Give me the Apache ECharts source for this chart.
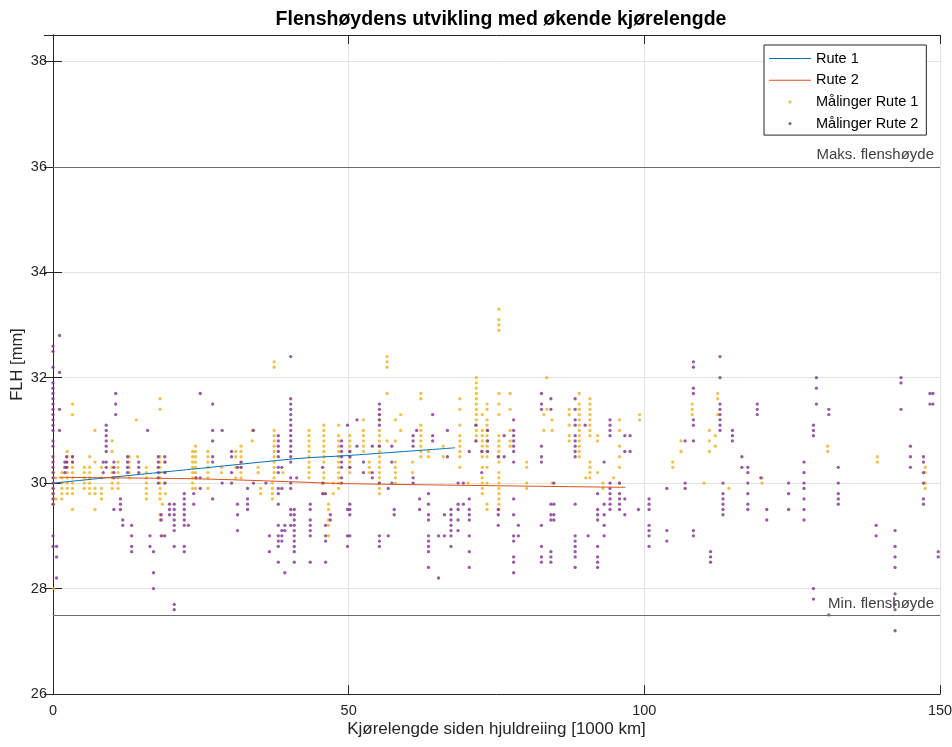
<!DOCTYPE html>
<html>
<head>
<meta charset="utf-8">
<script src="https://cdn.jsdelivr.net/npm/echarts@6/dist/echarts.min.js"></script>
<style>
  html, body { margin: 0; padding: 0; background: #ffffff; }
  #chart { width: 952px; height: 747px; }
</style>
</head>
<body>
<div id="chart"></div>
<script>
// Flange height measurements per route: [distance (1000 km), [FLH values in mm]]
const route1Columns = [
  [0.1, [30.2, 30.1, 30.0, 29.9, 29.8, 29.7, 29.6, 28.0]],
  [0.5, [30.1, 29.7]],
  [1.5, [30.2, 30.1, 30.0, 29.9, 29.8, 29.7]],
  [2.4, [30.6, 30.5, 30.4, 30.3, 30.2, 30.1, 30.0, 29.9, 29.8]],
  [3.3, [31.5, 31.3, 30.5, 30.4, 30.3, 30.2, 30.1, 30.0, 29.9, 29.8, 29.5]],
  [5.3, [30.3, 30.2, 30.1, 30.0, 29.9]],
  [6.2, [30.5, 30.3, 30.2, 30.1, 30.0, 29.9, 29.8]],
  [7.1, [31.0, 30.4, 29.9, 29.8, 29.5]],
  [8.2, [30.3, 30.1, 29.9, 29.8, 29.7]],
  [10.0, [30.8, 30.6, 30.3, 30.2, 30.1, 30.0, 29.9]],
  [11.0, [30.4, 30.3, 30.2, 30.1, 30.0, 29.9]],
  [12.9, [30.5, 30.4, 30.3, 30.2, 30.1]],
  [14.1, [31.2]],
  [14.3, [30.5]],
  [15.8, [30.3, 30.2, 30.1, 30.0, 29.9, 29.8, 29.7]],
  [18.1, [31.6, 31.4, 30.5, 30.4, 30.3, 30.2, 30.1, 30.0, 29.9, 29.8, 29.7, 29.4, 29.3]],
  [18.5, [29.6, 29.0]],
  [19.0, [30.4, 30.2, 30.0, 29.8]],
  [23.6, [30.6, 30.5, 30.4, 30.3, 30.2, 30.1, 30.0, 29.9]],
  [24.1, [30.7, 30.6, 30.5, 30.4, 30.3, 30.2, 30.1, 29.9]],
  [26.2, [30.6, 30.5, 30.4, 30.3, 30.2, 30.1, 29.9]],
  [28.5, [30.3, 30.2]],
  [30.9, [30.6, 30.5, 30.3, 30.1]],
  [31.8, [30.7, 30.6, 30.5, 30.4, 30.3, 30.2, 30.1]],
  [33.7, [31.0, 30.8]],
  [34.7, [30.3, 30.2]],
  [35.1, [29.9, 29.8]],
  [37.1, [30.0, 29.9, 29.8, 29.7]],
  [37.4, [32.3, 32.2, 31.0, 30.9, 30.8, 30.7, 30.6, 30.5, 30.4, 30.3, 30.2, 30.1]],
  [38.9, [30.2]],
  [43.3, [31.0, 30.9, 30.8, 30.7, 30.6, 30.5, 30.4, 30.3, 30.2, 30.1]],
  [45.8, [31.1, 31.0, 30.9, 30.8, 30.7, 30.6, 30.5, 30.4, 30.2, 30.1, 30.0, 29.8]],
  [46.6, [29.6, 29.5, 29.3, 29.2, 29.0]],
  [47.4, [30.0, 29.8]],
  [48.3, [31.1, 30.9, 30.8, 30.7, 30.6, 30.5, 30.4, 30.3, 30.2, 30.1, 30.0, 29.9]],
  [50.2, [30.9, 30.8, 30.7, 30.6, 30.5, 30.4, 30.3, 30.2]],
  [52.5, [31.2, 31.0, 30.9, 30.8, 30.7, 30.6]],
  [53.5, [30.4, 30.3, 30.2]],
  [55.2, [31.3, 31.2, 31.0, 30.9, 30.8, 30.7, 30.6, 30.5, 30.4, 30.3, 30.2, 30.1, 30.0, 29.9, 29.8]],
  [56.5, [32.4, 32.3, 32.2, 31.7, 30.8]],
  [57.9, [31.2, 30.8, 30.4, 30.3, 30.2, 30.1, 30.0]],
  [58.8, [31.3, 31.0]],
  [60.8, [30.4, 30.2]],
  [62.2, [31.7, 31.6, 31.1, 31.0, 30.9, 30.8, 30.7, 30.6, 30.5]],
  [63.5, [30.6, 30.5]],
  [66.0, [30.7, 30.5]],
  [68.8, [31.6, 31.4, 31.1, 30.9, 30.8, 30.7, 30.6, 30.5, 30.3]],
  [70.2, [30.0]],
  [71.6, [32.0, 31.9, 31.8, 31.7, 31.6, 31.5, 31.4, 31.3, 31.2, 31.1, 31.0, 30.9, 30.8]],
  [72.6, [31.3, 31.0, 30.9, 30.8, 30.7, 30.6, 30.5, 30.3, 30.1, 30.0, 29.9, 29.8]],
  [73.4, [31.5, 31.4, 31.2, 31.1, 31.0, 30.9, 30.8, 30.7, 30.6, 30.5, 30.3, 30.0, 29.6, 29.5]],
  [75.4, [33.3, 33.1, 33.0, 32.9, 31.7, 31.5, 31.3, 30.9, 30.8, 30.7, 30.6, 30.5, 30.4, 30.2, 30.1, 30.0, 29.9, 29.8, 29.7, 29.6, 29.5]],
  [77.3, [31.7, 31.4, 31.0, 30.8, 30.7]],
  [80.1, [30.4, 30.3, 30.0, 29.9]],
  [83.0, [31.3, 31.0]],
  [83.5, [32.0, 31.4]],
  [84.4, [31.2, 31.0, 30.0]],
  [87.3, [31.4, 31.3, 31.1, 30.9, 30.8]],
  [89.0, [31.7, 31.5, 31.4, 31.3, 31.2, 31.1, 31.0, 30.9, 30.8, 30.7, 30.6, 30.5]],
  [90.1, [30.1]],
  [90.8, [31.6, 31.5, 31.4, 31.3, 31.2, 31.1, 31.0, 30.9, 30.4, 30.3, 30.2, 30.1]],
  [92.1, [30.9, 30.8, 30.2]],
  [93.0, [30.0, 29.9]],
  [94.8, [30.1]],
  [95.8, [31.2, 31.0, 30.7, 30.5, 30.3, 30.0]],
  [99.2, [31.3, 31.2]],
  [104.8, [30.4, 30.3]],
  [106.2, [30.8, 30.6]],
  [108.1, [31.5, 31.4, 31.3]],
  [110.1, [30.0]],
  [111.0, [31.0, 30.8, 30.6]],
  [112.0, [30.9, 30.7]],
  [112.4, [31.7, 31.6, 31.3]],
  [114.3, [29.9]],
  [119.9, [30.1, 30.0]],
  [131.0, [30.7, 30.6]],
  [139.4, [30.5, 30.4]],
  [147.5, [30.3, 30.2, 30.0, 29.9]]
];

const route2Columns = [
  [0.0, [32.6, 32.5, 32.2, 31.9, 31.8, 31.7, 31.6, 31.5, 31.4, 31.3, 31.2, 31.1, 31.0, 30.8, 30.7, 30.5, 30.4, 30.3, 30.2, 30.1, 30.0, 29.9, 29.8, 29.7, 29.6, 29.0, 28.8]],
  [0.6, [28.8, 28.6, 28.2]],
  [1.1, [32.8, 32.1, 31.4, 31.0]],
  [2.0, [30.4, 30.3, 30.2]],
  [2.3, [30.5, 30.4, 30.3]],
  [3.3, [30.5, 30.4]],
  [8.5, [30.4, 30.2]],
  [9.0, [31.1, 31.0, 30.9, 30.8, 30.7, 30.6, 30.4, 30.3]],
  [10.3, [30.4, 30.3, 30.2, 30.1, 29.5]],
  [10.6, [31.7, 31.5, 31.3]],
  [11.4, [29.7, 29.6, 29.5]],
  [11.8, [29.3, 29.2]],
  [12.6, [30.5, 30.4, 30.3, 30.2]],
  [13.3, [29.2, 29.0, 28.8, 28.7]],
  [14.5, [30.4, 30.3, 30.2]],
  [16.0, [31.0]],
  [16.4, [29.0, 28.8]],
  [17.0, [28.7, 28.3, 28.0]],
  [17.8, [30.5, 30.4, 30.3, 30.2, 30.1, 30.0]],
  [18.3, [29.4, 29.3, 29.0]],
  [18.9, [30.5, 30.4, 30.2, 30.0, 29.0]],
  [19.7, [29.6, 29.5, 29.4]],
  [20.5, [29.6, 29.5, 29.4, 29.3, 29.2, 29.1, 28.8, 27.7, 27.6]],
  [22.2, [29.8, 29.7, 29.6, 29.5, 29.4, 29.3, 29.2, 28.8, 28.7]],
  [22.9, [29.2]],
  [23.8, [29.8, 29.6]],
  [24.2, [30.1]],
  [24.9, [31.7, 30.1, 29.9]],
  [27.0, [31.5, 31.0, 30.8, 30.5, 30.4, 29.7]],
  [28.6, [31.0, 30.0]],
  [30.2, [30.6, 30.5, 30.2, 30.0]],
  [31.2, [30.3, 29.6, 29.4, 29.1]],
  [31.8, [30.4, 30.3]],
  [32.9, [29.9, 29.7, 29.6, 29.5]],
  [33.9, [31.0, 30.0]],
  [36.0, [30.0]],
  [36.6, [29.0, 28.7]],
  [38.1, [30.9, 30.8, 30.7, 30.6, 30.5, 30.3, 30.2, 29.9, 29.8, 29.6, 29.2, 29.0, 28.9, 28.8, 28.5]],
  [38.7, [30.3, 29.9, 29.1, 29.0, 28.9]],
  [39.2, [29.2, 29.1, 28.3]],
  [40.2, [32.4, 31.6, 31.5, 31.4, 31.3, 31.2, 31.1, 31.0, 30.9, 30.8, 30.7, 30.6, 30.5, 30.4, 30.1, 30.0, 29.9, 29.5, 29.4, 29.2]],
  [40.8, [29.5, 29.4, 29.3, 29.2, 29.1, 29.0, 28.9, 28.8, 28.7, 28.5]],
  [41.2, [30.1]],
  [43.5, [29.6, 29.5, 29.3, 29.2, 29.1, 29.0, 28.5]],
  [45.6, [30.3, 30.0, 29.8]],
  [46.1, [29.8, 29.2, 29.0, 28.9, 28.5]],
  [46.9, [29.4, 29.3]],
  [48.8, [30.8, 30.7, 30.6, 30.5, 30.4, 30.3, 30.1, 30.0]],
  [49.8, [31.1, 29.5, 29.0, 28.8]],
  [50.2, [30.6, 30.5, 30.3, 29.6, 29.5, 29.4, 29.0]],
  [51.4, [31.2, 30.7]],
  [52.5, [30.4, 30.2]],
  [54.0, [30.7, 30.2, 30.1]],
  [55.2, [31.5, 31.4, 31.3, 31.2, 31.1, 30.7, 30.0, 29.0, 28.9, 28.8]],
  [56.7, [29.9, 29.0]],
  [57.3, [30.7, 30.4, 30.0]],
  [57.7, [29.5, 29.4]],
  [60.9, [30.9, 30.8, 30.7, 30.1, 30.0]],
  [61.5, [31.0]],
  [62.0, [29.7, 29.5]],
  [63.5, [29.8, 29.6, 29.4, 29.3, 29.0, 28.9, 28.8, 28.7, 28.4]],
  [64.2, [31.3, 30.9, 30.8]],
  [65.2, [29.0, 28.2]],
  [66.2, [29.4, 29.0]],
  [66.7, [31.0, 30.5]],
  [67.3, [29.5, 29.4, 29.3, 29.2, 29.1, 29.0, 28.8]],
  [68.5, [30.0, 29.6, 29.5, 29.3, 29.1]],
  [69.4, [30.0, 29.6]],
  [70.4, [30.6, 29.7, 29.5, 29.4, 29.3, 29.0, 28.7, 28.4]],
  [71.5, [31.1, 30.8]],
  [72.5, [30.6, 30.2]],
  [73.5, [31.0, 30.8, 30.6]],
  [75.3, [30.5, 29.5, 29.4, 29.2]],
  [76.3, [30.9, 30.5]],
  [77.9, [31.2, 31.0, 30.9, 30.8, 30.7, 30.6, 30.4, 29.7, 29.4, 29.0, 28.9, 28.6, 28.5, 28.3]],
  [78.7, [29.2, 29.0]],
  [82.6, [31.7, 31.5, 31.4, 30.7, 30.5, 30.4, 29.2, 28.8, 28.6, 28.5]],
  [84.2, [31.6, 31.4, 29.6, 29.4, 29.3, 28.7, 28.6, 28.5]],
  [84.7, [30.0, 29.6, 29.4, 29.3]],
  [88.3, [31.6, 31.4, 31.2, 31.1, 30.9, 30.8, 30.7, 30.6, 30.5, 29.6, 29.0, 28.9, 28.8, 28.7, 28.6, 28.4]],
  [90.0, [31.1]],
  [90.5, [29.0]],
  [92.1, [29.8, 29.5, 29.4, 29.3, 28.8, 28.6, 28.5, 28.4]],
  [93.2, [30.4, 29.6, 29.4, 29.2, 29.0]],
  [94.2, [31.2, 31.1, 31.0, 30.9, 30.0, 29.9, 29.8, 29.7, 29.6, 29.5]],
  [95.8, [30.0, 29.8, 29.7, 29.6, 29.5]],
  [96.7, [30.9, 30.6, 29.7, 29.4]],
  [97.6, [30.9, 30.6]],
  [99.0, [29.5]],
  [100.8, [29.7, 29.6, 29.5, 29.2, 29.1, 29.0, 28.8]],
  [103.8, [29.9, 29.1, 28.9]],
  [106.9, [30.8, 30.0, 29.9]],
  [108.3, [32.3, 32.2, 31.8, 31.7, 31.2, 31.1, 30.8, 29.1, 29.0]],
  [111.2, [28.7, 28.6, 28.5]],
  [112.8, [32.4, 32.0, 31.5, 31.4, 31.3, 31.2, 31.1, 31.0]],
  [113.3, [30.0, 29.8, 29.7, 29.6, 29.5, 29.4]],
  [114.9, [31.0, 30.9, 30.8]],
  [116.5, [30.5, 30.3]],
  [117.5, [30.3, 30.2, 30.0, 29.8, 29.6, 29.5]],
  [119.1, [31.5, 31.4, 31.3]],
  [119.7, [30.1]],
  [120.7, [29.5, 29.3]],
  [124.4, [30.0, 29.8, 29.5]],
  [127.0, [30.4, 30.2, 30.0, 29.9, 29.7, 29.5, 29.3]],
  [128.6, [31.1, 31.0, 30.9, 28.0, 27.8]],
  [129.1, [32.0, 31.8, 31.5]],
  [131.2, [31.4, 31.3, 27.5]],
  [132.8, [30.3, 30.0, 29.8, 29.7, 29.6]],
  [139.2, [29.2, 29.0]],
  [142.4, [29.1, 28.8, 28.6, 28.4, 27.9, 27.7, 27.6, 27.2]],
  [143.4, [32.0, 31.9, 31.4]],
  [145.0, [30.7, 30.5, 30.3]],
  [147.2, [30.5, 30.4, 30.2, 30.0, 29.7, 29.6]],
  [148.3, [31.7, 31.5]],
  [148.8, [31.7, 31.5]],
  [149.7, [28.7, 28.6]]
];

// Fitted trend per route
const route1FitX = [0, 24.9, 41.8, 49.4, 68.0];
const route1FitY = [30.00, 30.28, 30.47, 30.52, 30.67];
const route2FitX = [1.0, 24.9, 41.8, 49.4, 96.8];
const route2FitY = [30.11, 30.08, 30.02, 29.99, 29.92];

// Flange height limits
const limitValues = [36, 27.5];
const limitLabels = ['Maks. flenshøyde', 'Min. flenshøyde'];

const seriesNames = ['Rute 1', 'Rute 2', 'Målinger Rute 1', 'Målinger Rute 2'];
const xTickValues = [0, 50, 100, 150];
const yTickValues = [26, 28, 30, 32, 34, 36, 38];

const toPoints = cols => cols.flatMap(([x, ys]) => ys.map(y => [x, y]));
const zipXY = (xs, ys) => xs.map((x, i) => [x, ys[i]]);

const FONT = '"Liberation Sans", Arial, Helvetica, sans-serif';
const AXIS = '#262626';
const GRID = '#e3e3e3';

// legend icons drawn inside an invisible 42x14 frame: a short line and a centered dot
const FRAME = 'M0,0h0.01v0.01h-0.01zM42,14h-0.01v-0.01h0.01z';
const lineIcon = 'path://' + FRAME + 'M0,6.5h42v1h-42z';
const dotIcon = 'path://' + FRAME + 'M19.4,7a1.6,1.6 0 1,0 3.2,0a1.6,1.6 0 1,0 -3.2,0z';

const baseAxis = {
  axisLine: { show: true, lineStyle: { color: AXIS, width: 1 } },
  axisTick: { show: true, inside: true, length: 9, lineStyle: { color: AXIS, width: 1 } }
};

const chart = echarts.init(document.getElementById('chart'), null, { renderer: 'canvas' });

chart.setOption({
  animation: false,
  backgroundColor: '#ffffff',
  textStyle: { fontFamily: FONT },
  title: {
    text: 'Flenshøydens utvikling med økende kjørelengde',
    left: 496,
    top: 5,
    textAlign: 'center',
    textStyle: { fontFamily: FONT, fontSize: 19.5, fontWeight: 'bold', color: '#000000' }
  },
  grid: { left: 53, right: 12, top: 35, bottom: 53, containLabel: false, outerBoundsMode: 'none' },
  legend: {
    orient: 'vertical',
    left: 764,
    top: 45,
    padding: [6, 8, 4, 5],
    itemGap: 6.7,
    itemWidth: 42,
    itemHeight: 14,
    borderColor: AXIS,
    borderWidth: 1,
    borderRadius: 0,
    backgroundColor: '#ffffff',
    selectedMode: false,
    textStyle: { fontFamily: FONT, fontSize: 14.5, color: '#000000', lineHeight: 14 },
    data: [
      { name: seriesNames[0], icon: lineIcon },
      { name: seriesNames[1], icon: lineIcon },
      { name: seriesNames[2], icon: dotIcon },
      { name: seriesNames[3], icon: dotIcon }
    ]
  },
  xAxis: [
    Object.assign({}, baseAxis, {
      type: 'value', min: 0, max: 150, interval: 50, position: 'bottom',
      name: 'Kjørelengde siden hjuldreiing [1000 km]',
      nameLocation: 'middle', nameGap: 27, nameMoveOverlap: false,
      nameTextStyle: { fontFamily: FONT, fontSize: 17, color: AXIS },
      axisLabel: { fontFamily: FONT, fontSize: 14.5, color: AXIS, margin: 9,
        formatter: v => (xTickValues.includes(v) ? String(v) : '') },
      splitLine: { show: true, lineStyle: { color: GRID, width: 1 } }
    }),
    Object.assign({}, baseAxis, {
      type: 'value', min: 0, max: 150, interval: 50, position: 'top',
      axisLabel: { show: false }, splitLine: { show: false }
    })
  ],
  yAxis: [
    Object.assign({}, baseAxis, {
      type: 'value', min: 26, max: 38.5, interval: 2, position: 'left',
      name: 'FLH [mm]', nameLocation: 'middle', nameGap: 27, nameRotate: 90, nameMoveOverlap: false,
      nameTextStyle: { fontFamily: FONT, fontSize: 16.5, color: AXIS },
      axisLabel: { fontFamily: FONT, fontSize: 14.5, color: AXIS, margin: 6, showMaxLabel: false,
        formatter: v => (yTickValues.includes(v) ? String(v) : '') },
      splitLine: { show: true, lineStyle: { color: GRID, width: 1 } }
    }),
    Object.assign({}, baseAxis, {
      type: 'value', min: 26, max: 38.5, interval: 2, position: 'right',
      axisLabel: { show: false }, splitLine: { show: false }
    })
  ],
  series: [
    {
      name: 'limits',
      type: 'line',
      data: [],
      silent: true,
      z: 1,
      markLine: {
        silent: true,
        symbol: 'none',
        animation: false,
        lineStyle: { color: '#6b6b6b', width: 1.2, type: 'solid' },
        label: {
          show: true,
          position: 'insideEndTop',
          distance: [6, 4],
          fontFamily: FONT,
          fontSize: 15,
          color: '#404040',
          formatter: p => p.name
        },
        emphasis: { disabled: true },
        data: limitValues.map((v, i) => ({ yAxis: v, name: limitLabels[i] }))
      }
    },
    {
      name: seriesNames[2],
      type: 'scatter',
      data: toPoints(route1Columns),
      symbol: 'circle',
      symbolSize: 3.3,
      itemStyle: { color: '#EDB120' },
      silent: true,
      z: 2
    },
    {
      name: seriesNames[3],
      type: 'scatter',
      data: toPoints(route2Columns),
      symbol: 'circle',
      symbolSize: 3.3,
      itemStyle: { color: '#7E2F8E' },
      silent: true,
      z: 3
    },
    {
      name: seriesNames[0],
      type: 'line',
      data: zipXY(route1FitX, route1FitY),
      symbol: 'none',
      smooth: 0.3,
      lineStyle: { color: '#0072BD', width: 1 },
      itemStyle: { color: '#0072BD' },
      silent: true,
      z: 4
    },
    {
      name: seriesNames[1],
      type: 'line',
      data: zipXY(route2FitX, route2FitY),
      symbol: 'none',
      smooth: 0.3,
      lineStyle: { color: '#D95319', width: 1 },
      itemStyle: { color: '#D95319' },
      silent: true,
      z: 4
    }
  ]
});
</script>
</body>
</html>
